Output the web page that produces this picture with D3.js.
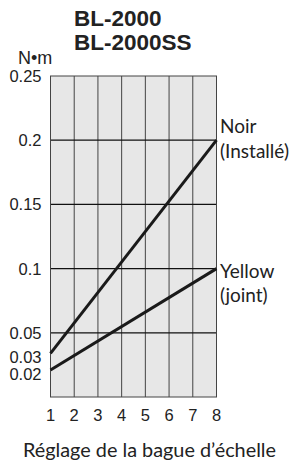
<!DOCTYPE html>
<html>
<head>
<meta charset="utf-8">
<script src="https://cdn.jsdelivr.net/npm/d3@7"></script>
<style>
  body { margin: 0; background: #fff; }
  svg { display: block; }
  .sans { font-family: "Liberation Sans", Arial, sans-serif; fill: #222; }
  .cal { font-family: Lato, "Open Sans", sans-serif; fill: #222; }
</style>
</head>
<body>
<svg width="295" height="466"></svg>
<script>
const titles = ['BL-2000', 'BL-2000SS'];
const xTicks = [1, 2, 3, 4, 5, 6, 7, 8];
const yTicks = [0.02, 0.03, 0.05, 0.1, 0.15, 0.2, 0.25];
const yGrid = [0.05, 0.1, 0.15, 0.2];
const noir = [[1, 0.034], [8, 0.2]];
const yellow = [[1, 0.021], [8, 0.1]];
const seriesLabels = [['Noir', '(Installé)'], ['Yellow', '(joint)']];
const xTitle = 'Réglage de la bague d\u2019échelle';

const svg = d3.select('svg');
const plotLeft = 50.5, plotRight = 216.5, plotTop = 76, plotBottom = 397;

const x = d3.scaleLinear().domain([1, 8]).range([plotLeft, plotRight]);
const y = d3.scaleLinear().domain([0, 0.25]).range([plotBottom, plotTop]);

// plot background
svg.append('rect')
  .attr('x', plotLeft).attr('y', plotTop)
  .attr('width', plotRight - plotLeft).attr('height', plotBottom - plotTop)
  .attr('fill', '#e7e7e7');

// vertical grid
svg.append('g').selectAll('line')
  .data(xTicks.slice(1, -1))
  .enter().append('line')
  .attr('x1', d => x(d)).attr('x2', d => x(d))
  .attr('y1', plotTop).attr('y2', plotBottom)
  .attr('stroke', '#444').attr('stroke-width', 1);

// horizontal grid
svg.append('g').selectAll('line')
  .data(yGrid)
  .enter().append('line')
  .attr('x1', plotLeft).attr('x2', plotRight)
  .attr('y1', d => y(d)).attr('y2', d => y(d))
  .attr('stroke', '#111').attr('stroke-width', 1.3);

svg.append('rect')
  .attr('x', plotLeft).attr('y', plotTop)
  .attr('width', plotRight - plotLeft).attr('height', plotBottom - plotTop)
  .attr('fill', 'none').attr('stroke', '#444').attr('stroke-width', 1);

// lines
const line = d3.line().x(d => x(d[0])).y(d => y(d[1]));
svg.append('g').selectAll('path')
  .data([noir, yellow])
  .enter().append('path')
  .attr('d', line)
  .attr('fill', 'none')
  .attr('stroke', '#1a1a1a')
  .attr('stroke-width', 3);

// y tick labels (0.02 / 0.03 nudged apart like the original)
const yNudge = { 0.02: 3, 0.03: -1 };
svg.append('g').selectAll('text')
  .data(yTicks)
  .enter().append('text')
  .attr('class', 'sans')
  .attr('x', 41.5)
  .attr('y', d => y(d) + (yNudge[d] || 0))
  .attr('dy', '0.36em')
  .attr('text-anchor', 'end')
  .attr('font-size', 16.5)
  .text(d => d);

// x tick labels
svg.append('g').selectAll('text')
  .data(xTicks)
  .enter().append('text')
  .attr('class', 'sans')
  .attr('x', d => x(d))
  .attr('y', 421)
  .attr('text-anchor', 'middle')
  .attr('font-size', 16.5)
  .text(d => d);

svg.append('text')
  .attr('class', 'sans')
  .attr('x', 18).attr('y', 63.5)
  .attr('font-size', 18)
  .text('N\u2022m');

svg.append('g').selectAll('text')
  .data(titles)
  .enter().append('text')
  .attr('class', 'sans')
  .attr('x', 74)
  .attr('y', (d, i) => 26 + i * 24)
  .attr('font-size', 22.5)
  .attr('font-weight', 'bold')
  .text(d => d);

// series labels at right end of lines
const ends = [noir[noir.length - 1], yellow[yellow.length - 1]];
const labelShift = [-7, 9];
seriesLabels.forEach((lab, i) => {
  const t = svg.append('text')
    .attr('class', 'cal')
    .attr('x', x(ends[i][0]) + 3.5)
    .attr('y', y(ends[i][1]) + labelShift[i])
    .attr('font-size', 19);
  t.append('tspan').text(lab[0]);
  t.append('tspan').attr('x', x(ends[i][0]) + 3.5).attr('dy', 24.5).text(lab[1]);
});

svg.append('text')
  .attr('class', 'cal')
  .attr('x', 149.5).attr('y', 456.5)
  .attr('text-anchor', 'middle')
  .attr('font-size', 19.5)
  .attr('textLength', 253)
  .attr('lengthAdjust', 'spacingAndGlyphs')
  .text(xTitle);
</script>
</body>
</html>
